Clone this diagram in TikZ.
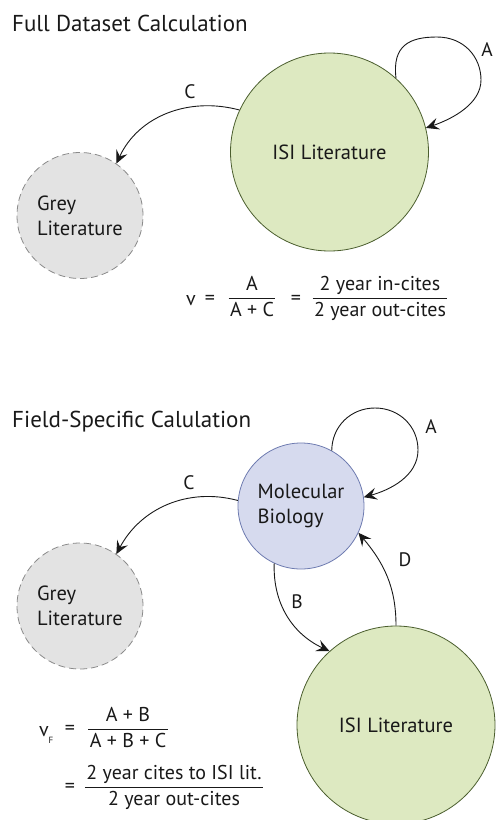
\documentclass[tikz,border=0pt]{standalone}
\usepackage{fontspec}
\setmainfont{PT Sans}
\usetikzlibrary{arrows.meta}
\definecolor{isifill}{HTML}{DDE9C1}
\definecolor{isidraw}{HTML}{4B5E2E}
\definecolor{greyfill}{HTML}{E3E3E3}
\definecolor{greydraw}{HTML}{8A8A8A}
\definecolor{molfill}{HTML}{D6DAEE}
\definecolor{moldraw}{HTML}{6E7BB0}
\setlength{\arrayrulewidth}{1pt}
\newcommand{\myfrac}[2]{\begin{tabular}{@{\hspace{1.5pt}}c@{\hspace{1.5pt}}}#1\\\hline#2\end{tabular}}
\begin{document}
\begin{tikzpicture}[x=1pt,y=-1pt,
  every node/.style={font=\fontsize{20.5}{25}\selectfont, text=black!90},
  titletext/.style={font=\fontsize{23}{27}\selectfont, anchor=base west, inner sep=0pt},
  isinode/.style={circle, draw=isidraw, fill=isifill, minimum size=198pt, inner sep=0pt, line width=0.8pt},
  greynode/.style={circle, draw=greydraw, fill=greyfill, minimum size=126pt, inner sep=0pt, line width=0.8pt, dash pattern=on 7pt off 4pt, align=left},
  molnode/.style={circle, draw=moldraw, fill=molfill, minimum size=126pt, inner sep=0pt, line width=0.8pt, align=left},
  conn/.style={-{Stealth[length=13pt,width=12pt,inset=5pt]}, line width=0.9pt, draw=black!90},
  lbl/.style={inner sep=0pt, font=\fontsize{19.5}{24}\selectfont},
  ftext/.style={inner sep=0pt, font=\fontsize{20}{25}\selectfont}
  ]
\useasboundingbox (0,0) rectangle (496,820);

% ---------- top part ----------
\node[titletext] (t1) at (12,31) {Full Dataset Calculation};
\node[isinode] (isi1) at (329.5,152) {ISI Literature};
\node[greynode] (grey1) at (80,215.5) {Grey\\Literature};

\draw[conn] (isi1.48) .. controls (392,45) and (410,37) .. (437,37)
  .. controls (464,37) and (481,57) .. (481,80)
  .. controls (481,104) and (452,119) .. (isi1.14);
\node[lbl] (a1) at (487,50) {A};

\draw[conn] (isi1.155) to[out=165,in=65] (grey1.55);
\node[lbl] (c1) at (190,92) {C};

\node[ftext] (v1) at (191,301) {v};
\node[ftext] (eq1) at (210,300) {=};
\node[ftext] (f1) at (252,298) {\myfrac{A}{A + C}};
\node[ftext] (eq2) at (296,300) {=};
\node[ftext] (f2) at (380,298) {\myfrac{2 year in-cites}{2 year out-cites}};

% ---------- bottom part ----------
\node[titletext] (t2) at (12,427) {Field-Specific Calulation};
\node[molnode] (mol) at (301,506) {Molecular\\Biology};
\node[greynode] (grey2) at (80,606) {Grey\\Literature};
\node[isinode] (isi2) at (396,725) {ISI Literature};

\draw[conn] (mol.61) .. controls (332,426) and (351,408) .. (375,408)
  .. controls (399,408) and (418,426) .. (418,450)
  .. controls (418,476) and (390,490) .. (mol.8);
\node[lbl] (a2) at (431,427) {A};

\draw[conn] (mol.175) to[out=165,in=62] (grey2.55);
\node[lbl] (c2) at (189,483) {C};

\draw[conn] (mol.245) to[out=-92,in=155] (isi2.132);
\node[lbl] (b2) at (297,602) {B};

\draw[conn] (isi2.90) to[out=90,in=-50] (mol.-25);
\node[lbl] (d2) at (405,560) {D};

\node[ftext] (v2) at (44,732) {v};
\node[ftext, font=\fontsize{9}{10}\selectfont] (sub) at (51,740) {F};
\node[ftext] (eq3) at (70,730) {=};
\node[ftext] (f3) at (128,729) {\myfrac{A + B}{A + B + C}};
\node[ftext] (eq4) at (70,788) {=};
\node[ftext] (f4) at (174,787) {\myfrac{2 year cites to ISI lit.}{2 year out-cites}};
\end{tikzpicture}
\end{document}
